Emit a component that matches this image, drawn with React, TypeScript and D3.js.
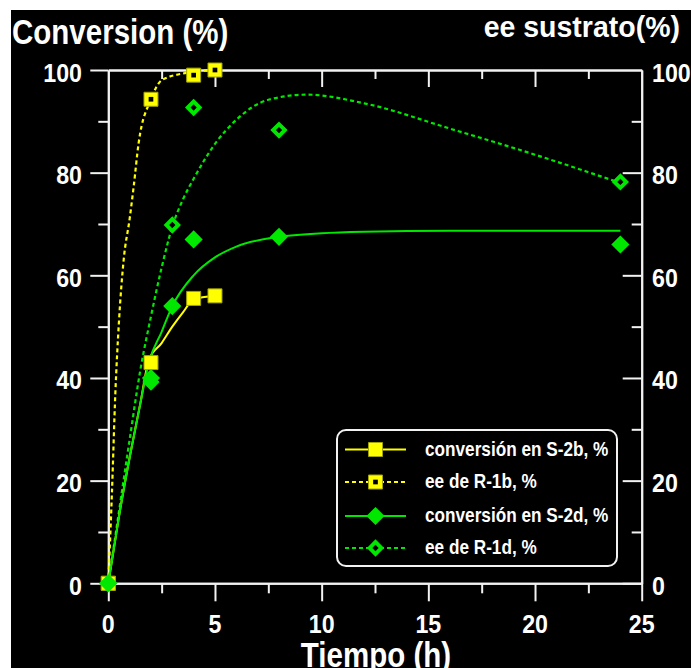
import { useEffect, useRef } from 'react';
import * as d3 from 'd3';

// measured points
const convS2bT = [0, 2, 4, 5];
const convS2bV = [0, 43, 55.5, 56];
const eeR1bT = [0, 2, 4, 5];
const eeR1bV = [0, 94.3, 99, 100];
const convS2dT = [0, 2, 3, 4, 8, 24];
const convS2dV = [0, 40, 54, 67, 67.5, 66];
const eeR1dT = [0, 2, 3, 4, 8, 24];
const eeR1dV = [0, 39.2, 69.8, 92.7, 88.3, 78.2];

// fitted curves
const fitS2bT = [0, 0.5, 1, 1.5, 1.9, 2.5, 3, 3.5, 4, 5];
const fitS2bV = [0, 13, 24.5, 35, 43.5, 46.8, 50, 52.8, 55.3, 56];
const fitR1bT = [0, 0.17, 0.33, 0.5, 0.72, 1, 1.19, 1.42, 2, 2.5, 3.6, 5];
const fitR1bV = [0, 17.6, 37, 51, 63, 71, 77.3, 85.7, 94.3, 98, 99.4, 100];
const fitS2dT = [0, 0.5, 1, 1.5, 1.9, 2.5, 3, 4, 5, 6, 8, 10, 12, 16, 24];
const fitS2dV = [0, 13, 24.5, 35, 43, 49, 54, 60, 63.5, 65.6, 67.5, 68.2, 68.5, 68.7, 68.7];
const fitR1dT = [0, 0.5, 1, 1.5, 2, 2.5, 3, 3.5, 4, 5, 6, 7.5, 9.3, 12, 16, 20, 24];
const fitR1dV = [0, 14, 28, 41.5, 52, 61.5, 69.5, 74.8, 78.8, 85.6, 90.3, 94.2, 95.2, 93.5, 88.6, 83.5, 78];

const xMajor = [0, 5, 10, 15, 20, 25];
const xMinor = [2.5, 7.5, 12.5, 17.5, 22.5];
const yMajor = [0, 20, 40, 60, 80, 100];
const yMinor = [10, 30, 50, 70, 90];

const legendLabels = [
  'conversión en S-2b, %',
  'ee de R-1b, %',
  'conversión en S-2d, %',
  'ee de R-1d, %',
];

const YELLOW = '#ffff00';
const GREEN = '#00e800';
const FONT = '"Liberation Sans", Arial, sans-serif';

export default function App() {
  const svgRef = useRef<SVGSVGElement>(null);

  useEffect(() => {
    if (!svgRef.current) return;
    const svg = d3.select(svgRef.current);
    svg.selectAll('*').remove();

    const W = 691;
    const H = 668;
    svg.append('rect').attr('width', W).attr('height', H).attr('fill', '#fff');
    svg.append('rect').attr('x', 11).attr('y', 10).attr('width', W - 11).attr('height', H - 10).attr('fill', '#000');

    const x = d3.scaleLinear().domain([0, 25]).range([108.3, 641.7]);
    const y = d3.scaleLinear().domain([0, 100]).range([583.3, 70]);

    const text = (
      str: string,
      tx: number,
      ty: number,
      size: number,
      sx: number,
      anchor: string
    ) =>
      svg
        .append('text')
        .attr('transform', `translate(${tx},${ty}) scale(${sx},1)`)
        .attr('text-anchor', anchor)
        .style('font-family', FONT)
        .style('font-weight', 'bold')
        .style('font-size', `${size}px`)
        .attr('fill', '#fff')
        .text(str);

    // axes (ticks: bottom/left outward, top/right inward)
    const styleAxis = (g: any) => {
      g.selectAll('path, line').attr('stroke', '#f2f2f2').attr('stroke-width', 2);
      g.selectAll('text').remove();
    };
    const addAxis = (axis: any, tr: string) =>
      svg.append('g').attr('transform', tr).call(axis).call(styleAxis);

    addAxis(d3.axisBottom(x).tickValues(xMajor).tickSize(18).tickSizeOuter(0), `translate(0,${y(0)})`);
    addAxis(d3.axisBottom(x).tickValues(xMinor).tickSize(10).tickSizeOuter(0), `translate(0,${y(0)})`);
    addAxis(d3.axisBottom(x).tickValues(xMajor.slice(1, -1)).tickSize(17).tickSizeOuter(0), `translate(0,${y(100)})`);
    addAxis(d3.axisBottom(x).tickValues(xMinor).tickSize(9).tickSizeOuter(0), `translate(0,${y(100)})`);
    addAxis(d3.axisLeft(y).tickValues(yMajor).tickSize(18).tickSizeOuter(0), `translate(${x(0)},0)`);
    addAxis(d3.axisLeft(y).tickValues(yMinor).tickSize(10).tickSizeOuter(0), `translate(${x(0)},0)`);
    addAxis(d3.axisRight(y).tickValues(yMajor.slice(0, -1)).tickSize(-19).tickSizeOuter(0), `translate(${x(25)},0)`);
    addAxis(d3.axisRight(y).tickValues(yMinor).tickSize(-10).tickSizeOuter(0), `translate(${x(25)},0)`);

    // tick labels
    yMajor.forEach((v) => {
      text(String(v), 82, y(v) + 11.5, 25.5, 0.91, 'end');
      text(String(v), 652, y(v) + 11.5, 25.5, 0.91, 'start');
    });
    xMajor.forEach((v) => text(String(v), x(v), 633, 25.5, 0.91, 'middle'));

    // titles
    text('Conversion (%)', 12, 44, 36, 0.82, 'start');
    text('ee sustrato(%)', 680, 37, 30, 0.95, 'end');
    text('Tiempo (h)', 376, 667, 36, 0.82, 'middle');

    // curves
    const line = d3
      .line<[number, number]>()
      .x((d) => x(d[0]))
      .y((d) => y(d[1]))
      .curve(d3.curveMonotoneX);
    const curve = (ts: number[], vs: number[], color: string, dashed: boolean) =>
      svg
        .append('path')
        .datum(ts.map((t, i) => [t, vs[i]] as [number, number]))
        .attr('fill', 'none')
        .attr('stroke', color)
        .attr('stroke-width', dashed ? 2.2 : 2)
        .attr('stroke-dasharray', dashed ? '4,3' : null)
        .attr('d', line);

    curve(fitR1bT, fitR1bV, YELLOW, true);
    curve(fitR1dT, fitR1dV, GREEN, true);
    curve(fitS2bT, fitS2bV, YELLOW, false);
    curve(fitS2dT, fitS2dV, GREEN, false);

    // markers
    const square = d3.symbol(d3.symbolSquare);
    const marker = (g: any, kind: string, cx: number, cy: number) => {
      if (kind === 'sq' || kind === 'osq') {
        g.append('path')
          .attr('transform', `translate(${cx},${cy})`)
          .attr('d', square.size(196)())
          .attr('fill', YELLOW)
          .attr('stroke', '#a3a300')
          .attr('stroke-width', 1);
        if (kind === 'osq')
          g.append('path')
            .attr('transform', `translate(${cx},${cy})`)
            .attr('d', square.size(22)())
            .attr('fill', '#000');
      } else {
        g.append('path')
          .attr('transform', `translate(${cx},${cy}) rotate(45)`)
          .attr('d', square.size(kind === 'di' ? 165 : 150)())
          .attr('fill', GREEN);
        if (kind === 'odi')
          g.append('path')
            .attr('transform', `translate(${cx},${cy}) rotate(45)`)
            .attr('d', square.size(20)())
            .attr('fill', '#000');
      }
    };

    const pts = svg.append('g');
    eeR1bT.forEach((t, i) => marker(pts, 'osq', x(t), y(eeR1bV[i])));
    convS2bT.forEach((t, i) => marker(pts, 'sq', x(t), y(convS2bV[i])));
    eeR1dT.forEach((t, i) => marker(pts, 'odi', x(t), y(eeR1dV[i])));
    convS2dT.forEach((t, i) => marker(pts, 'di', x(t), y(convS2dV[i])));

    // legend
    const lg = svg.append('g');
    lg.append('rect')
      .attr('x', 337)
      .attr('y', 430)
      .attr('width', 280)
      .attr('height', 136)
      .attr('rx', 9)
      .attr('fill', '#000')
      .attr('stroke', '#f2f2f2')
      .attr('stroke-width', 2);
    const rows = [449.5, 482, 516, 548];
    const kinds = ['sq', 'osq', 'di', 'odi'];
    const colors = [YELLOW, YELLOW, GREEN, GREEN];
    legendLabels.forEach((lab, i) => {
      lg.append('line')
        .attr('x1', 345)
        .attr('x2', 406)
        .attr('y1', rows[i])
        .attr('y2', rows[i])
        .attr('stroke', colors[i])
        .attr('stroke-width', 2)
        .attr('stroke-dasharray', i % 2 ? '4,3' : null);
      marker(lg, kinds[i], 375.5, rows[i]);
      text(lab, 425, rows[i] + 6, 20, 0.86, 'start');
    });
  }, []);

  return (
    <svg
      ref={svgRef}
      width={691}
      height={668}
      style={{ position: 'absolute', left: 0, top: 0, display: 'block' }}
    />
  );
}
